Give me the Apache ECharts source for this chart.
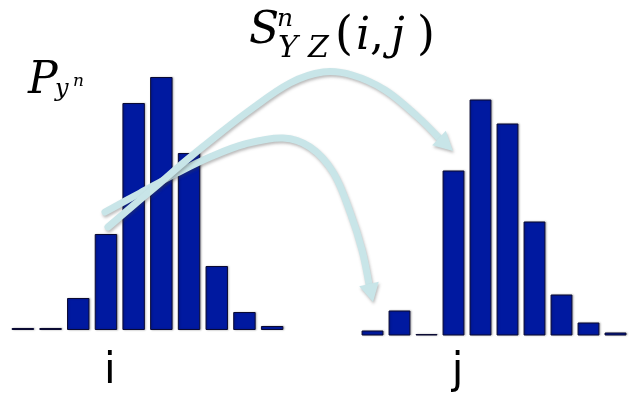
<!DOCTYPE html>
<html>
<head>
<meta charset="utf-8">
<script src="https://cdn.jsdelivr.net/npm/echarts@6/dist/echarts.min.js"></script>
<style>
  html, body { margin: 0; padding: 0; background: #ffffff; }
  #chart { width: 629px; height: 396px; }
</style>
</head>
<body>
<div id="chart"></div>
<script>
// Bin indices shared by both histograms
const bins = [0, 1, 2, 3, 4, 5, 6, 7, 8, 9];
// Histogram of P over y^n (left) and of the target distribution (right)
const leftCounts = [2, 2, 32, 96, 227, 253, 177, 64, 18, 4];
const rightCounts = [5, 25, 1.5, 165, 236, 212, 114, 41, 13, 3];
// Bin names shown under each histogram
const leftBinLabels = ['', '', '', 'i', '', '', '', '', '', ''];
const rightBinLabels = ['', '', '', 'j', '', '', '', '', '', ''];

const BAR_BLUE = '#0019a0';
const ARROW = '#c8e5e8';

function barSeries(data, idx) {
  return {
    type: 'bar',
    xAxisIndex: idx,
    yAxisIndex: idx,
    data: data,
    barCategoryGap: '19%',
    itemStyle: {
      color: BAR_BLUE,
      borderColor: '#0a0a33',
      borderWidth: 1,
      shadowColor: 'rgba(0,0,0,0.25)',
      shadowBlur: 2,
      shadowOffsetX: 1,
      shadowOffsetY: 0
    },
    silent: true,
    animation: false
  };
}

function catAxis(idx, labels, margin) {
  return {
    type: 'category',
    gridIndex: idx,
    data: bins,
    axisLine: { show: false },
    axisTick: { show: false },
    splitLine: { show: false },
    axisLabel: {
      interval: 0,
      margin: margin,
      fontFamily: 'DejaVu Sans',
      fontSize: 42,
      lineHeight: 42,
      padding: [0, 0, 0, 8],
      color: '#000000',
      formatter: function (v, i) { return labels[i]; }
    }
  };
}

function valAxis(idx) {
  return { type: 'value', gridIndex: idx, min: 0, max: 260, show: false };
}

// Curved arrow: smooth shaft through points, triangular head at tip
function arrow(points, tip) {
  const last = points[points.length - 1];
  const dx = tip[0] - last[0], dy = tip[1] - last[1];
  const len = Math.sqrt(dx * dx + dy * dy);
  const nx = -dy / len, ny = dx / len;
  const hw = 10;
  const shadow = {
    shadowColor: 'rgba(60,60,60,0.35)',
    shadowBlur: 3,
    shadowOffsetX: 1,
    shadowOffsetY: 2
  };
  return [
    {
      type: 'polyline',
      z: 100,
      shape: { points: points, smooth: 0.35 },
      style: Object.assign({ stroke: ARROW, lineWidth: 7, fill: null, lineCap: 'round' }, shadow)
    },
    {
      type: 'polygon',
      z: 100,
      shape: {
        points: [
          [last[0] + nx * hw, last[1] + ny * hw],
          tip,
          [last[0] - nx * hw, last[1] - ny * hw]
        ]
      },
      style: Object.assign({ fill: ARROW, stroke: null }, shadow)
    }
  ];
}

const arrowToPeak = arrow(
  [[108, 227], [135, 204], [160, 183], [183, 163], [215, 137], [250, 110],
   [290, 83], [323, 72], [352, 75], [385, 90], [418, 117], [439, 138]],
  [453, 151]
);
const arrowToTail = arrow(
  [[105, 212], [140, 193], [177, 173], [210, 157], [245, 144], [283, 138],
   [310, 147], [333, 172], [350, 212], [362, 250], [369, 284]],
  [373, 302]
);

// Math annotations
function mtext(str, x, baseline, size, italic) {
  return {
    type: 'text',
    z: 110,
    x: x,
    y: baseline - 0.35 * size,
    style: {
      text: str,
      fontFamily: 'DejaVu Serif',
      fontStyle: italic ? 'italic' : 'normal',
      fontSize: size,
      fill: '#000000',
      verticalAlign: 'middle',
      align: 'left'
    }
  };
}

const labels = [
  mtext('P', 28, 97, 44, true),
  mtext('y', 55, 98, 24, true),
  mtext('n', 73, 88, 17, true),
  mtext('S', 249, 47, 44, true),
  mtext('n', 277, 28, 25, true),
  mtext('Y', 278, 60, 30, true),
  mtext('Z', 308, 60, 30, true),
  mtext('(', 335, 53, 46, false),
  mtext('i', 356, 53, 44, true),
  mtext(',', 370, 53, 44, false),
  mtext('j', 391, 53, 44, true),
  mtext(')', 417, 53, 46, false)
];

const chart = echarts.init(document.getElementById('chart'), null, { renderer: 'canvas' });
chart.setOption({
  animation: false,
  backgroundColor: '#ffffff',
  grid: [
    { left: 9, top: 70, width: 277, height: 260 },
    { left: 359, top: 75.5, width: 277, height: 260 }
  ],
  xAxis: [catAxis(0, leftBinLabels, 21), catAxis(1, rightBinLabels, 15.5)],
  yAxis: [valAxis(0), valAxis(1)],
  series: [barSeries(leftCounts, 0), barSeries(rightCounts, 1)],
  graphic: arrowToTail.concat(arrowToPeak, labels)
});
</script>
</body>
</html>
